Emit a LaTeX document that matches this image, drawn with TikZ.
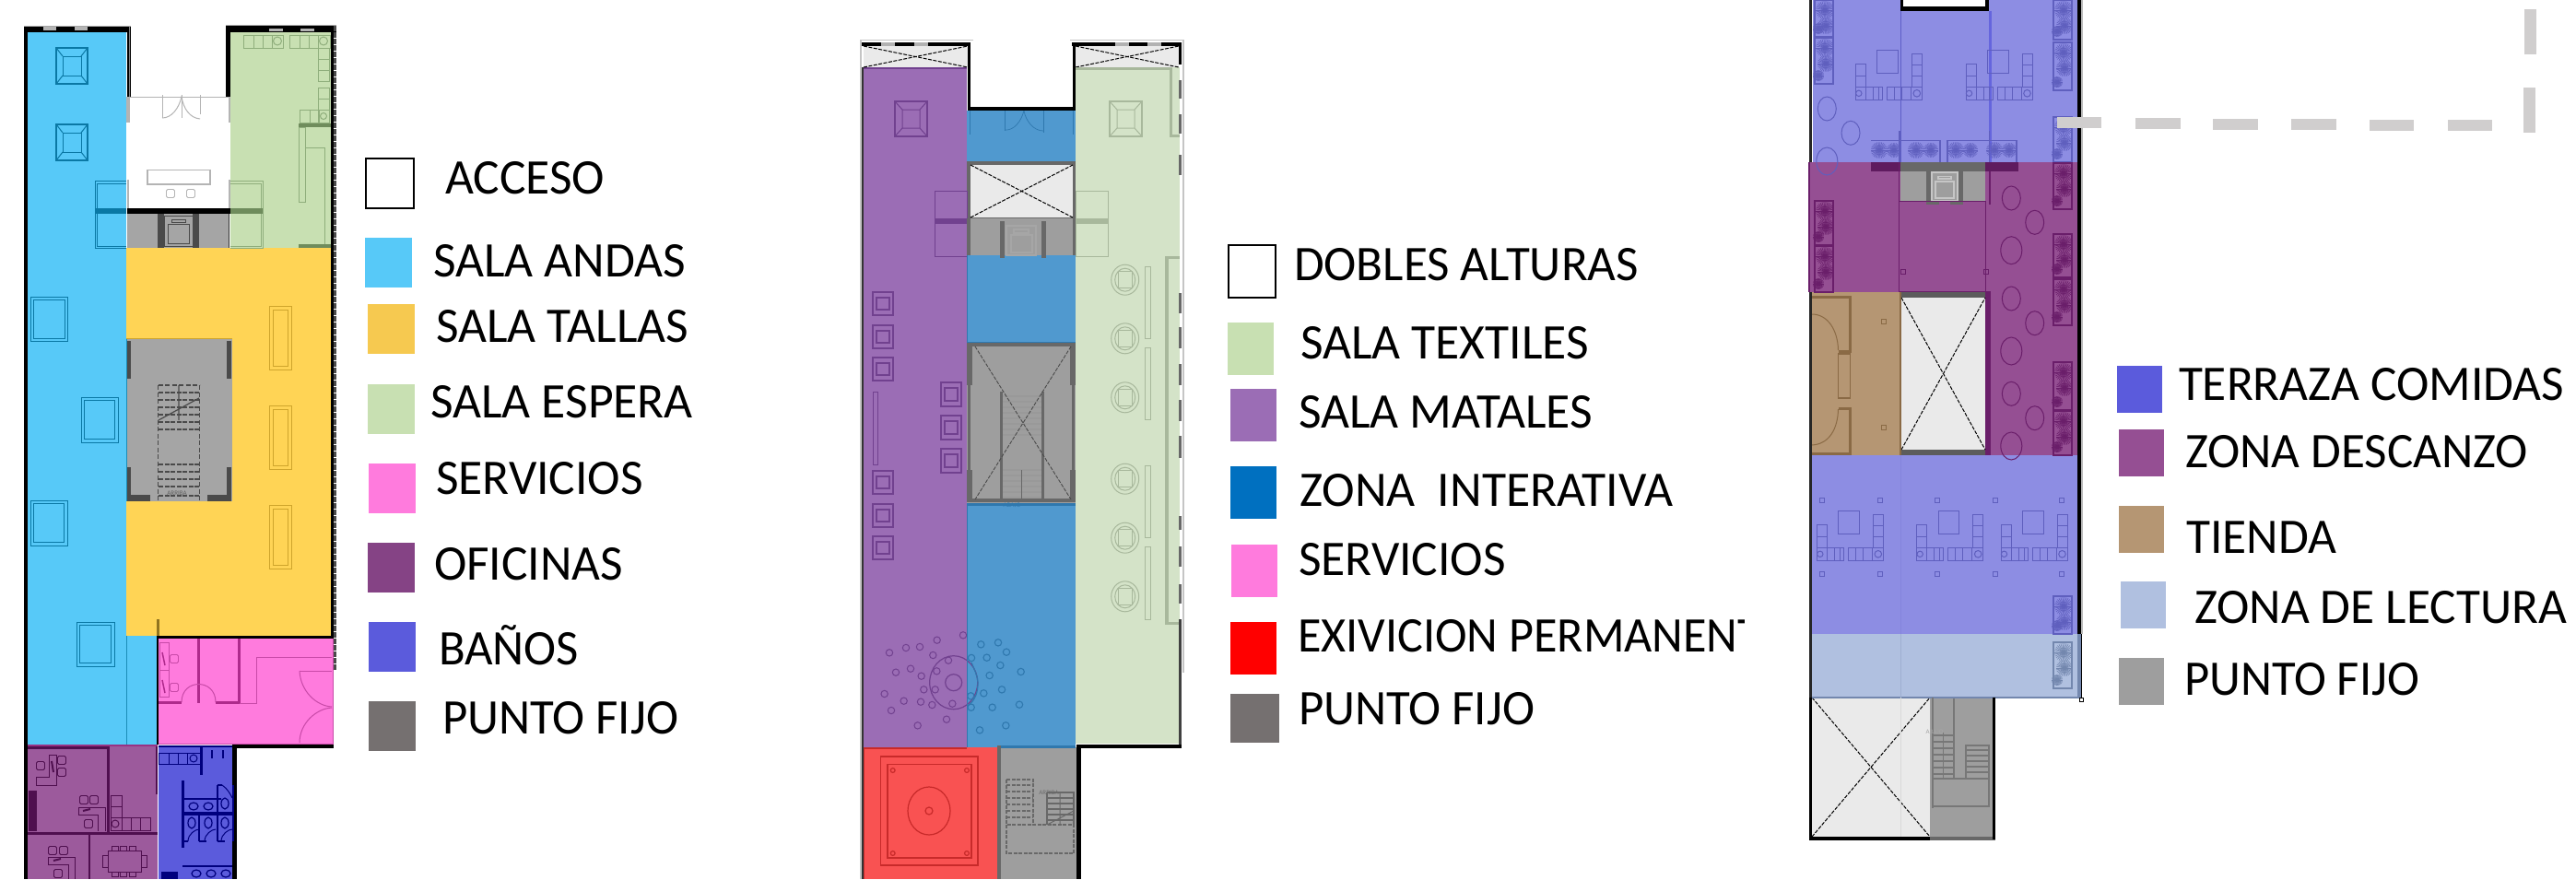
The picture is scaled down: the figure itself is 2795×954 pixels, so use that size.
\documentclass[tikz,border=0pt]{standalone}
\usepackage{fontspec}
\usepackage{graphicx}
\setmainfont{Carlito}
\definecolor{lgTa}{HTML}{F6C950}
\definecolor{lgOf}{HTML}{854385}
\definecolor{lgGy}{HTML}{757070}
\definecolor{lgBl}{HTML}{0070C0}
\definecolor{cCy}{HTML}{57C9F8}
\definecolor{cCyL}{HTML}{1C8DB8}
\definecolor{cCyD}{HTML}{0A78A5}
\definecolor{cYe}{HTML}{FFD455}
\definecolor{cYeL}{HTML}{CFA52C}
\definecolor{cGr}{HTML}{C8E0B2}
\definecolor{cGrL}{HTML}{8FAE7C}
\definecolor{cGrD}{HTML}{6F8C5C}
\definecolor{cPk}{HTML}{FF7BDD}
\definecolor{cPkL}{HTML}{C84AA8}
\definecolor{cPkD}{HTML}{AE2A8C}
\definecolor{cOf}{HTML}{9C5A9C}
\definecolor{cOfL}{HTML}{4F0F4F}
\definecolor{cBa}{HTML}{5B5BDC}
\definecolor{cBaL}{HTML}{00007E}
\definecolor{cGy}{HTML}{A5A5A5}
\definecolor{cGyD}{HTML}{4A4A4A}
\definecolor{cWh}{HTML}{B4B4B4}
\definecolor{cMe}{HTML}{9B6DB5}
\definecolor{cMeL}{HTML}{71418F}
\definecolor{cIn}{HTML}{5099CF}
\definecolor{cInL}{HTML}{2F78AE}
\definecolor{cTe}{HTML}{D4E3C8}
\definecolor{cTeL}{HTML}{A8B89C}
\definecolor{cRe}{HTML}{F95252}
\definecolor{cReL}{HTML}{C82A2A}
\definecolor{cGm}{HTML}{9E9E9E}
\definecolor{cGmD}{HTML}{686868}
\definecolor{cLt}{HTML}{EAEAEA}
\definecolor{cTz}{HTML}{8D8DE3}
\definecolor{cTzL}{HTML}{5F5FBE}
\definecolor{cDe}{HTML}{954F93}
\definecolor{cDeL}{HTML}{6A1E6A}
\definecolor{cTi}{HTML}{B59673}
\definecolor{cTiL}{HTML}{8A6A45}
\definecolor{cLe}{HTML}{B0C0E0}
\definecolor{cLeL}{HTML}{7387AE}
\definecolor{cDash}{HTML}{D0CECE}
\tikzset{
  lgdtext/.style={anchor=base west,inner sep=0pt,outer sep=0pt,font=\fontsize{54}{60}\selectfont,text=black},
  tiny/.style={inner sep=0pt,font=\fontsize{7}{8}\selectfont,text=#1},
  xbox/.style={line width=1pt,dash pattern=on 4pt off 1.5pt,black},
  fur/.style={line width=1pt},
}
\newcommand{\fb}[5]{\fill[#5] (#1,#2) rectangle (#3,#4);}
\newcommand{\lgd}[5]{\pgfmathsetmacro{\lgw}{#4+3}\node[lgdtext] (#1) at (#2-2,#3) {\resizebox{\lgw pt}{\height}{#5}};}
\newcommand{\pedestal}[4]{%
  \draw[line width=1.2pt] (#1,#2) rectangle (#3,#4);
  \draw[line width=1pt] (#1+7,#2+9) rectangle (#3-7,#4-9);
  \draw[line width=1pt] (#1,#2) -- (#1+7,#2+9) (#3,#2) -- (#3-7,#2+9) (#1,#4) -- (#1+7,#4-9) (#3,#4) -- (#3-7,#4-9);}
\newcommand{\dbl}[5]{\draw[line width=1pt] (#1,#2) rectangle (#3,#4) (#1+#5,#2+#5) rectangle (#3-#5,#4-#5);}
\newcommand{\chairc}[2]{\draw[line width=.9pt,rounded corners=1.5pt] (#1-4.5,#2-4.5) rectangle (#1+4.5,#2+4.5);}
% sofa group, x0 = left edge, y0 = bottom edge
\newcommand{\sofagrp}[2]{%
  \draw[line width=1pt] (#1,#2) rectangle (#1+29,#2-14);
  \draw[line width=1pt] (#1+11,#2-14) -- (#1+11,#2) (#1+19,#2-14) -- (#1+19,#2) (#1+25,#2-14) -- (#1+25,#2);
  \draw[line width=1pt] (#1,#2-14) rectangle (#1+11,#2-39) (#1,#2-26) -- (#1+11,#2-26);
  \draw[line width=1pt] (#1+3.5,#2-7) circle[radius=3.2];
  \draw[line width=1pt] (#1+34,#2) rectangle (#1+72,#2-14);
  \draw[line width=1pt] (#1+42,#2-14) -- (#1+42,#2) (#1+50,#2-14) -- (#1+50,#2) (#1+60,#2-14) -- (#1+60,#2);
  \draw[line width=1pt] (#1+61,#2-14) rectangle (#1+72,#2-50) (#1+61,#2-26) -- (#1+72,#2-26) (#1+61,#2-38) -- (#1+72,#2-38);
  \draw[line width=1pt] (#1+66.5,#2-7) circle[radius=3.8];
  \draw[line width=1pt] (#1+23.5,#2-54) rectangle (#1+46,#2-29);}
\newcommand{\plantb}[3]{\foreach \ang in {0,12,...,348}{\draw[line width=.6pt] (#1,#2) -- ++(\ang:#3);}\fill (#1,#2) circle[radius=#3*.2];}
\newcommand{\planterv}[4]{%
  \draw[line width=1.4pt] (#1,#2) rectangle (#3,#4);
  \plantb{#1+11}{#2+11}{10}\plantb{#1+12}{#2+28}{9}\plantb{#1+4}{#4-9}{6}}
\newcommand{\planterh}[2]{%
  \plantb{#1+9}{#2+11}{9}\plantb{#1+25}{#2+11}{8}}
\newcommand{\sqs}[2]{\draw[line width=.9pt] (#1-2.5,#2-2.5) rectangle (#1+2.5,#2+2.5);}
\begin{document}
\begin{tikzpicture}[x=1pt,y=-1pt]
\useasboundingbox (0,0) rectangle (2795,954);
\fill[white] (0,0) rectangle (2795,954);
%% ---------- PLAN 1 ----------
\fb{29}{35}{137}{808}{cCy}
\fb{137}{690}{171}{808}{cCy}
\fb{250}{35}{359}{269}{cGr}
\fb{137}{269}{359}{690}{cYe}
\fb{137}{367.5}{252}{544}{cGy}
\fb{138}{232}{249}{269}{cGy}
\fb{171}{693}{362}{808}{cPk}
\fb{29}{808}{171}{954}{cOf}
\fb{172}{810}{252}{954}{cBa}
% cyan furniture
\begin{scope}[color=cCyD]
\pedestal{61}{52}{95}{91}
\pedestal{61}{135}{95}{174}
\dbl{33}{322}{73}{370}{3}
\dbl{88}{431}{128}{480}{3.5}
\dbl{33}{543}{73}{592}{3.5}
\dbl{83}{675}{124}{723}{3.5}
\draw[line width=1pt] (137,196) -- (103,196) -- (103,269) -- (137,269) (137,199) -- (105,199) -- (105,267) -- (137,267);
\fb{103}{226}{137}{232}{cCyD}
\draw[line width=.7pt,cCyL] (137.5,690) -- (137.5,808);
\end{scope}
% green furniture
\begin{scope}[color=cGrL]
\draw[fur] (264,38) rectangle (307,52) (275,38) -- (275,52) (285,38) -- (285,52) (295,38) -- (295,52);
\draw[fur] (301,44.5) circle[radius=4.5];
\draw[fur] (314,38) rectangle (358,52) (325,38) -- (325,52) (335,38) -- (335,52) (345,38) -- (345,52);
\draw[fur] (351,44.5) circle[radius=4.5];
\draw[fur] (345,52) rectangle (357,88) (345,64) -- (357,64) (345,76) -- (357,76);
\draw[fur] (345,95) rectangle (357,133) (345,107) -- (357,107) (345,119) -- (357,119);
\draw[fur] (325,119) rectangle (357,133) (336,119) -- (336,133) (346,119) -- (346,133);
\draw[fur] (351,126) circle[radius=3.5];
\fb{324}{134}{359}{138}{cGrD}
\draw[fur] (324,138) rectangle (331,219);
\draw[fur] (331,160) -- (352,160) -- (352,269);
\fb{324}{265}{359}{269}{cGrD}
\draw[line width=1pt] (250,196) -- (285,196) -- (285,269) -- (250,269) (250,199) -- (283,199) -- (283,267) -- (250,267);
\fb{250}{226}{285}{232}{cGrD}
\end{scope}
% yellow furniture
\begin{scope}[color=cYeL]
\dbl{292.5}{332}{316.5}{401}{4}
\dbl{292.5}{440}{316.5}{509}{4}
\dbl{292.5}{548}{316.5}{617}{4}
\fb{169.5}{672}{172.5}{690}{cYeL!70!black}
\end{scope}
% access
\begin{scope}[color=cWh]
\draw[line width=1.2pt] (140,105.5) -- (248,105.5);
\fb{137}{105}{141}{133}{cWh}
\fb{247.5}{105}{250}{133}{cWh}
\fb{137.5}{195}{140}{226}{cWh}
\fb{248}{195}{250}{226}{cWh}
\draw[line width=1pt] (176,103) -- (176,128) (197,103) -- (197,128) (217,103) -- (217,124);
\draw[line width=1pt] (176,128) .. controls (186,128) and (194,118) .. (197,105) .. controls (199,118) and (206,128) .. (217,129);
\draw[line width=1.2pt] (160,184.5) rectangle (228,200);
\chairc{185}{210}\chairc{207}{210}
\end{scope}
\fb{138}{226}{250}{232}{black}
% elevator
\fb{171}{232}{178}{269}{cGyD}
\fb{209}{232}{216}{269}{cGyD}
\draw[cGyD,line width=1pt] (178,234) rectangle (209,267) (182,243) rectangle (205,264) (186,238) rectangle (201,241);
\draw[black!80,line width=1pt] (248.5,232) -- (248.5,269);
% core
\begin{scope}[color=cGyD]
\fb{137}{370}{142}{411}{cGyD}
\fb{245.5}{370}{251}{411}{cGyD}
\fb{137}{507}{142}{544}{cGyD}
\fb{137}{537}{163}{544}{cGyD}
\fb{245.5}{507}{251}{544}{cGyD}
\fb{225}{537}{251}{544}{cGyD}
\draw[line width=1.6pt,dash pattern=on 5pt off 2.5pt] (171.5,418) -- (171.5,544) (216.5,418) -- (216.5,544) (171.5,418) -- (216.5,418);
\foreach \yy in {426,434,442,450,458,466,504,512,520,528,538}{\draw[line width=1.4pt,dash pattern=on 5pt off 1.5pt] (172,\yy) -- (216,\yy);}
\draw[line width=1.2pt] (194,418) -- (194,456) (172,456) -- (216,432);
\node[tiny=gray!75!black] (arriba1) at (192,535.5) {ARRIBA};
\end{scope}
\draw[cCyL,line width=1pt] (137.5,367) -- (137.5,544);
\draw[cYeL,line width=.6pt] (137,367.5) -- (252,367.5);
% pink
\begin{scope}[color=cPkL]
\fb{213.5}{693}{217}{763}{cPkD}
\fb{257.5}{693}{261}{763}{cPkD}
\fb{172}{760.5}{197}{763.5}{cPkD}
\fb{234}{760.5}{260}{763.5}{cPkD}
\draw[fur] (197,762) .. controls (197,736) and (234,736) .. (234,762);
\draw[fur] (260,763) -- (278,763) -- (278,713.5) -- (360,713.5);
\draw[fur] (325,728) -- (360,728);
\draw[fur] (325,728) .. controls (326,750) and (343,766) .. (360,767);
\draw[fur] (360,768) .. controls (343,769) and (325,785) .. (325,806);
\draw[fur] (173,697) rectangle (183,756) (173,727) -- (183,727);
\chairc{189}{715}\chairc{189}{746}
\draw[line width=1.5pt,cPkD] (176,708) -- (179,722) (176,738) -- (179,752);
\draw[fur] (171,807.5) -- (361,807.5) -- (361,693);
\end{scope}
% offices
\begin{scope}[color=cOfL]
\fb{29}{810}{118}{812.5}{cOfL}
\fb{116}{810}{118.5}{903}{cOfL}
\fb{29}{903}{171}{906}{cOfL}
\fb{96}{906}{98}{954}{cOfL}
\fb{168.5}{808}{171}{862}{cOfL}
\fb{29}{808}{171}{809.5}{cPkL!60!cOfL}
\draw[fur] (53,819) -- (61,819) -- (61,852) -- (39,852) -- (39,843) -- (53,843) -- cycle;
\chairc{44}{831}\chairc{67}{825}\chairc{67}{838}
\draw[line width=2pt] (56,826) -- (58,838);
\draw[fur] (85,876) -- (114,876) -- (114,902) (85,876) -- (85,884) -- (106,884) -- (106,902);
\chairc{91}{868}\chairc{102}{868}\chairc{96}{894}
\draw[line width=2pt] (90,880) -- (98,878);
\draw[fur] (120,863) rectangle (132,901) (120,875) -- (132,875) (120,887) -- (163,887) -- (163,901) -- (120,901) (132,887) -- (132,901) (142,887) -- (142,901) (152,887) -- (152,901);
\draw[fur] (125,894) circle[radius=4];
\fill (31,858) rectangle (40,902);
\draw[fur] (52,930) -- (81,930) -- (81,954) (52,930) -- (52,938) -- (74,938) -- (74,954);
\chairc{57}{923}\chairc{69}{923}\chairc{63}{948}
\draw[line width=2pt] (58,934) -- (66,932);
\draw[fur] (117,923) rectangle (153,946);
\draw[fur] (121,918) rectangle (128,923) (130,918) rectangle (137,923) (140,918) rectangle (147,923);
\draw[fur] (111,928) rectangle (117,941) (153,928) rectangle (159,941);
\draw[fur] (121,946) rectangle (128,951) (130,946) rectangle (137,951) (140,946) rectangle (147,951);
\end{scope}
% baños
\begin{scope}[color=cBaL]
\fb{172}{808.5}{252}{811}{cBaL}
\draw[fur] (172,817) rectangle (217,829) (183,817) -- (183,829) (193,817) -- (193,829) (203,817) -- (203,829);
\draw[fur] (210,823) circle[radius=4];
\fb{216.5}{811}{219.5}{841}{cBaL}
\draw[line width=1.2pt] (230,814) -- (230,823) (242,814) -- (242,823);
\fb{196.5}{847}{199.5}{920}{cBaL}
\fb{198}{881}{253}{885}{cBaL}
\draw[line width=1.2pt] (200,867) -- (240,867) (236,852) -- (236,883) (236,852) -- (241,852);
\draw[line width=1.4pt] (216,885) -- (216,913) (236,885) -- (236,913) (198,913) -- (204,913) (216,913) -- (224,913) (236,913) -- (244,913);
\foreach \xx in {210,226}{\draw[line width=1.2pt] (\xx,875) ellipse[x radius=5,y radius=4];}
\draw[line width=1.2pt] (244,872) ellipse[x radius=4,y radius=6];
\foreach \xx in {208,226,244}{\draw[line width=1.2pt] (\xx,893) ellipse[x radius=4,y radius=6];\draw[line width=1pt] (\xx-4,913) .. controls (\xx-4,905) and (\xx+4,900) .. (\xx+8,900);}
\draw[line width=1pt] (241,852) .. controls (247,856) and (250,862) .. (252,866);
\draw[line width=1.2pt] (198,940) -- (253,940);
\foreach \xx in {213,229,245}{\draw[line width=1.2pt] (\xx,948) ellipse[x radius=5,y radius=4];}
\fill (175,946) rectangle (193,954);
\end{scope}
% plan 1 walls
\fb{26}{28}{29.5}{954}{black}
\fb{26}{28}{142}{35}{black}
\fb{137.5}{28}{142}{105}{black}
\fb{245}{28}{365}{35}{black}
\fb{245}{28}{250}{105}{black}
\fb{359}{28}{362}{690}{black}
\fb{170}{690}{362}{693}{black}
\fb{170}{690}{172}{808}{black}
\fb{252}{808}{362}{812}{black}
\fb{252}{812}{257}{954}{black}
\fb{252}{852}{254}{913}{cBaL}
\draw[line width=3pt,dash pattern=on 6pt off 1pt,cGyD] (363.5,28) -- (363.5,728);
\draw[line width=1pt,gray] (140.5,28) -- (140.5,105);
\fb{47}{29}{61}{33}{cWh}
\fb{81}{29}{95}{33}{cWh}
\fb{292}{31}{307}{34}{cWh}
\fb{326}{31}{341}{34}{cWh}
\draw[cGy,line width=.8pt] (26,28) -- (142,28) (245,27.5) -- (365,27.5);
%% ---------- PLAN 2 ----------
\fb{936}{73}{1049}{811}{cMe}
\fb{936}{73}{1049}{74.5}{cMeL}
\fb{1167}{73}{1280}{807}{cTe}
\fb{937}{50}{1050}{73}{cLt}
\fb{1167}{50}{1279}{73}{cLt}
\fb{1049}{120}{1167}{175}{cIn}
\fb{1049}{175}{1167}{237}{cGmD}
\fb{1053}{179}{1164}{236}{cLt}
\fb{1049}{237}{1167}{277}{cGm}
\fb{1049}{277}{1167}{372}{cIn}
\fb{1049}{372}{1167}{548}{cGm}
\fb{1049}{548}{1167}{811}{cIn}
\fb{936}{811}{1082}{954}{cRe}
\fb{1082}{811}{1168}{954}{cGm}
\draw[xbox] (1053,179) -- (1164,236) (1053,236) -- (1164,179);
\draw[xbox] (937,50) -- (1050,73) (937,73) -- (1050,50);
\draw[xbox] (1167,50) -- (1279,73) (1167,73) -- (1279,50);
% metal furniture
\begin{scope}[color=cMeL]
\draw[line width=1.4pt] (971,110) rectangle (1006,148);
\draw[fur] (979,119) rectangle (998,139) (971,110) -- (979,119) (1006,110) -- (998,119) (971,148) -- (979,139) (1006,148) -- (998,139);
\draw[line width=1pt] (1014,207) rectangle (1049,278);
\fb{1014}{237}{1049}{243}{cMeL}
\foreach \yy in {317,353,388,511,547,582}{\draw[line width=1.2pt] (947,\yy) rectangle (969,\yy+25);\draw[line width=1.6pt] (951,\yy+6) rectangle (965,\yy+19);}
\foreach \yy in {415,451,487}{\draw[line width=1.2pt] (1021,\yy) rectangle (1043,\yy+26);\draw[line width=1.6pt] (1025,\yy+6) rectangle (1039,\yy+20);}
\draw[fur] (947,425) rectangle (952,504);
\foreach \a/\b in {135/685,189/669,234/666,290/644,375/628,277/693,327/710,156/749,204/737,239/761,289/745,247/805,284/805,119/819,182/842,237/845,274/855,340/851,141/873,227/922,321/902}{\draw[line width=1pt] (920+\a/3,480+\b/3) circle[radius=3.7];}
\draw[line width=1.2pt] (1034.7,740.7) ellipse[x radius=26,y radius=29];
\draw[line width=1.2pt] (1034.7,740.7) circle[radius=9];
\end{scope}
\begin{scope}[color=cInL]
\foreach \a/\b in {433/658,489/652,516/683,402/702,452/701,496/726,461/759,563/747,501/805,442/817,400/826,401/863,470/863,558/854,514/922,429/937}{\draw[line width=1.1pt] (920+\a/3,480+\b/3) circle[radius=3.7];}
\draw[line width=1.2pt] (1054,719) .. controls (1058,728) and (1061,735) .. (1061,741) .. controls (1061,752) and (1058,760) .. (1050,766);
\draw[line width=.7pt] (1052,120) -- (1052,146) (1164,120) -- (1164,146) (1090,120) -- (1090,142) (1132,120) -- (1132,144);
\draw[line width=.7pt] (1090,141) .. controls (1100,142) and (1108,132) .. (1111,120) .. controls (1113,132) and (1122,142) .. (1132,142);
\fb{1048.5}{277}{1050}{372}{cInL}
\fb{1048.5}{548}{1050}{811}{cInL}
\fb{1049}{370.5}{1167}{373}{cInL}
\fb{1049}{545.5}{1167}{549}{cInL}
\fb{1085}{809}{1167}{812}{cInL}
\end{scope}
% textiles
\begin{scope}[color=cTeL]
\draw[line width=1.2pt] (1204,110) rectangle (1239,148);
\draw[fur] (1212,119) rectangle (1231,139) (1204,110) -- (1212,119) (1239,110) -- (1231,119) (1204,148) -- (1212,139) (1239,148) -- (1231,139);
\draw[line width=1pt] (1167,207) rectangle (1202,278);
\fb{1167}{237}{1202}{243}{cTeL}
\foreach \yy in {303.7,367.3,431.3,519.7,583.7,647.3}{\draw[line width=1pt] (1220.7,\yy) ellipse[x radius=15,y radius=16.5];\draw[line width=1pt] (1220.7,\yy) ellipse[x radius=11,y radius=12.5];\draw[fur] (1213,\yy-9) rectangle (1228,\yy+9);}
\foreach \yy/\zz in {289/367,377/455,505/583,593/672}{\draw[line width=1pt] (1242.5,\yy) rectangle (1248,\zz);}
\fb{1264}{278}{1267.5}{677}{cTeL}
\fb{1264}{278}{1280}{281}{cTeL}
\fb{1264}{675}{1280}{678}{cTeL}
\fb{1269}{73}{1272}{149}{cTeL}
\fb{1269}{146}{1280}{149}{cTeL}
\fb{1167}{73}{1272}{76}{cTeL}
\end{scope}
% core plan 2
\begin{scope}[color=cGmD]
\fb{1049}{237}{1053}{277}{cGmD}
\fb{1164}{237}{1167}{277}{cGmD}
\fb{1085}{240}{1090}{280}{cGmD}
\fb{1130}{240}{1135}{280}{cGmD}
\draw[line width=1.4pt,gray!70] (1092,245) rectangle (1124,277) (1097,255) rectangle (1120,274) (1100,249) rectangle (1116,253);
\fb{1049}{372}{1055}{418}{cGmD}
\fb{1161}{372}{1167}{418}{cGmD}
\fb{1049}{372}{1167}{376}{cGmD}
\fb{1050}{418}{1053}{510}{cGmD}
\fb{1163}{418}{1166}{510}{cGmD}
\fb{1049}{510}{1055}{545}{cGmD}
\fb{1161}{510}{1167}{545}{cGmD}
\fb{1049}{541}{1167}{545}{cGmD}
\fb{1085}{425}{1088}{545}{cGmD}
\fb{1130}{425}{1133}{545}{cGmD}
\foreach \yy in {430,436,442,448,454,460,466,472,510,516,522,528,534,540}{\draw[line width=1.2pt,gray!80] (1088,\yy) -- (1130,\yy);}
\draw[line width=.8pt] (1108,510) -- (1108,545);
\draw[line width=.9pt,dash pattern=on 4pt off 1.5pt,cGyD] (1058,376) -- (1162,542) (1162,376) -- (1058,542);
\node[tiny=cInL] (abajo2) at (1098,548.5) {ABAJO};
\end{scope}
% red
\begin{scope}[color=cReL]
\draw[line width=1.2pt] (955.5,821) rectangle (1061,939) (963,829.5) rectangle (1054,931);
\draw[line width=1.2pt] (1008,880) ellipse[x radius=23,y radius=26];
\draw[line width=1.2pt] (1008,880) circle[radius=4];
\foreach \xx/\yy in {968.7/836,1049/836,968.7/926,1049/926}{\draw[line width=1.2pt] (\xx,\yy) circle[radius=2.4];}
\fb{936}{811}{938}{954}{cReL}
\fb{936}{811}{1049}{812.5}{cReL}
\end{scope}
% lower stairs
\begin{scope}[color=cGmD]
\fb{1082}{809}{1086}{954}{cGmD}
\draw[line width=1.6pt,dash pattern=on 4pt off 1.5pt] (1092,895) rectangle (1165,926);
\draw[line width=1.6pt,dash pattern=on 4pt off 1.5pt] (1092,846) -- (1121,846) -- (1121,895) (1092,846) -- (1092,895);
\foreach \yy in {852,859,866,873,880,887}{\draw[line width=1.4pt,dash pattern=on 4pt off 1.5pt] (1092,\yy) -- (1121,\yy);}
\draw[line width=1.3pt] (1136,860) -- (1165,860) -- (1165,895) (1136,860) -- (1136,895);
\foreach \yy in {866,872,878,884,890}{\draw[line width=1.1pt] (1136,\yy) -- (1165,\yy);}
\draw[line width=1pt] (1136,895) -- (1165,880) (1150,860) -- (1150,895);
\node[tiny=gray!85!black] (arriba2) at (1138,860.5) {ARRIBA};
\end{scope}
% plan 2 walls
\draw[cGm!60,line width=1.3pt] (934,954) -- (934,43.5) -- (1056,43.5) (1161,43.5) -- (1284,43.5) -- (1284,730);
\fb{935}{73}{937}{954}{black!80}
\fb{1050}{46}{1053}{120}{black}
\fb{1050}{115.5}{1167}{120}{black}
\fb{1163.5}{46}{1167}{120}{black}
\fb{935}{46}{1053}{49.5}{white!70!black}
\fb{1163}{46}{1282}{49.5}{white!70!black}
\foreach \aa/\bb in {935/956,971/992,1007/1031,1031/1053,1163/1210,1225/1245,1260/1282}{\fb{\aa}{46}{\bb}{50}{black}}
\fb{1279}{50}{1282}{70}{black}
\foreach \aa/\bb in {87/107,124/145,168/190,318/340,355/378,395/418,434/457,473/497,560/575,593/615,634/655,672/810}{\fb{1279}{\aa}{1282}{\bb}{cGmD}}
\fb{1279}{672}{1282}{810}{black!75}
\fb{1168}{807.5}{1282}{812}{black}
\fb{1168}{807.5}{1173}{954}{black}
%% ---------- PLAN 3 ----------
\fb{1966}{0}{2254}{176}{cTz}
\fb{1962}{176}{2254}{317}{cDe}
\fb{1966}{317}{2062}{494}{cTi}
\fb{2160}{317}{2254}{494}{cDe}
\fb{2063}{323}{2154}{488}{cLt}
\fb{2062}{317}{2154}{323}{cGyD!90}
\fb{2062}{488}{2154}{494}{cGyD!90}
\fb{2154}{317}{2160}{494}{cDeL}
\fb{1966}{494}{2254}{688}{cTz}
\fb{1965}{688}{2258}{757}{cLe}
\fb{1966}{757}{2094}{908}{cLt}
\fb{2094}{757}{2164}{910}{cGm}
\fb{2062}{176}{2154}{218}{cGm}
% plan 3 elevator
\fb{2062}{176}{2154}{186}{cGmD}
\fb{2090}{186}{2097}{222}{cGmD}
\fb{2123}{186}{2129.5}{222}{cGmD}
\draw[line width=1.2pt,gray!45] (2096,187) rectangle (2124,218) (2100,197) rectangle (2120,215) (2103,191.5) rectangle (2117,194);
\fb{2096}{218}{2104}{222}{cGmD}
\fb{2116}{218}{2124}{222}{cGmD}
\draw[xbox] (2063,323) -- (2154,488) (2063,488) -- (2154,323);
\draw[xbox] (1966,757) -- (2094,908) (1966,908) -- (2094,757);
% plan 3 top block
\fb{2062}{0}{2158}{12}{black}
\fb{2065}{0}{2154}{7}{white}
\draw[cTzL!70!cBa,line width=.8pt] (2062.5,12) -- (2062.5,176);
\fb{2158}{12}{2161}{176}{cBa!80!cTz}
\begin{scope}[color=cTzL]
\sofagrp{2013.3}{108.3}
\sofagrp{2133}{108.3}
\sofagrp{1971.3}{608.3}
\sofagrp{2079.7}{608.3}
\sofagrp{2171}{608.3}
\foreach \xx in {1977,2039.7,2102.3,2165,2236.7}{\sqs{\xx}{542.5}\sqs{\xx}{622.5}}
\foreach \xx/\yy/\rx/\ry in {1982.3/118/10/13,2008/144.3/10/13,1982.3/175/11.5/15}{\draw[line width=1pt] (\xx,\yy) ellipse[x radius=\rx,y radius=\ry];}
\planterv{1969}{0}{1989}{40}
\planterv{1969}{41}{1989}{91}
\planterv{2228}{0}{2248}{43}
\planterv{2228}{46}{2248}{98}
\planterv{2228}{127}{2248}{176}
\planterv{2228}{647}{2248}{688}
\planterh{2030}{152}\planterh{2070}{152}
\planterh{2113}{152}\planterh{2155}{152}
\draw[line width=1.3pt] (2030,152.5) -- (2105,152.5) -- (2105,176) (2113,176) -- (2113,152.5) -- (2188,152.5) -- (2188,176);
\draw[line width=1.6pt] (2061,142) -- (2061,176) (2158.5,142) -- (2158.5,176);
\end{scope}
\begin{scope}[color=cDeL]
\fb{2030}{176}{2062}{186}{cDeL!90!black}
\fb{2154}{176}{2190}{186}{cDeL!90!black}
\draw[line width=1pt] (2060.5,176) -- (2060.5,317) (2154.5,218) -- (2154.5,317) (2060.5,218.5) -- (2154.5,218.5) (2060.5,316.5) -- (2160,316.5);
\draw[line width=2pt] (2158.5,186) -- (2158.5,222);
\foreach \xx/\yy/\rx/\ry in {2182.3/215/10/13,2207.7/241.3/10/13,2182.3/271.7/11.5/15,2182.3/324/10/13,2207.7/350.7/10/13,2182.3/381/11.5/15,2182.3/427.3/10/13,2207.7/453.7/10/13,2182.3/484/11.5/15}{\draw[line width=1pt] (\xx,\yy) ellipse[x radius=\rx,y radius=\ry];}
\sqs{2065.3}{294.7}\sqs{2155}{294.7}
\planterv{1969}{218}{1989}{266}
\planterv{1969}{267}{1989}{317}
\planterv{2228}{177}{2248}{227}
\planterv{2228}{254}{2248}{301}
\planterv{2228}{303}{2248}{353}
\planterv{2228}{393}{2248}{445}
\planterv{2228}{446}{2248}{494}
\draw[line width=1.2pt,cDeL] (1963,176) -- (1963,317);
\end{scope}
% tienda
\begin{scope}[color=cTiL]
\draw[line width=3pt] (1966,322.5) -- (2007.5,322.5) -- (2007.5,381) -- (1995,381);
\draw[line width=1.3pt] (1994.5,384) rectangle (2007.5,432);
\draw[line width=3pt] (1995,443.5) -- (2007.5,443.5) -- (2007.5,492.5) -- (1966,492.5);
\draw[fur] (1966,341) .. controls (1983,341) and (1994,358) .. (1994.5,380);
\draw[fur] (1994.5,444) .. controls (1994,465) and (1985,482) .. (1966,483);
\sqs{2044}{349}\sqs{2044}{464}
\draw[line width=1.3pt] (2062,317) -- (2062,494);
\end{scope}
% lectura
\begin{scope}[color=cLeL]
\planterv{2228}{697}{2248}{747}
\fb{2254}{688}{2258}{757}{cLeL}
\fb{1965}{755.5}{2258}{757.5}{cLeL}
\end{scope}
\draw[cTzL!20!cTz,line width=.6pt] (2062.5,494) -- (2062.5,688);
\draw[cLeL!30!cLe,line width=.6pt] (2062.5,688) -- (2062.5,757);
\draw[black!15,line width=.7pt] (2062.5,757) -- (2062.5,908);
% lower stairs plan 3
\begin{scope}[color=cGmD!90]
\draw[line width=1.5pt] (2120,758) -- (2120,845) (2097,757) -- (2097,877) (2097,875) -- (2158,875) -- (2158,809) -- (2133,809) -- (2133,845) (2097,845) -- (2158,845);
\draw[line width=2.5pt] (2120,845) -- (2133,845);
\foreach \yy in {798,805,812,819,826,833,840}{\draw[line width=1.2pt] (2097,\yy) -- (2120,\yy);}
\foreach \yy in {814,820,826,832,838}{\draw[line width=1.2pt] (2133,\yy) -- (2158,\yy);}
\draw[line width=.8pt] (2108.5,795) -- (2108.5,845);
\node[tiny=gray!70] (abajo3) at (2099,794.5) {ABAJO};
\end{scope}
% plan 3 walls
\fb{1963}{0}{1966}{176}{black!85}
\fb{1966}{0}{1967}{176}{white}
\fb{1963}{317}{1966}{757}{black!85}
\fb{1963}{757}{1966}{911}{black}
\fb{1963}{908}{2094}{911.5}{black}
\fb{2094}{908}{2165}{911.5}{cGmD}
\fb{2161.5}{757}{2165}{911}{black}
\fb{2254}{0}{2258}{688}{black}
\fb{2258}{0}{2260}{688}{cGm!70}
\fb{2258}{688}{2259}{757}{black}
\draw[black,line width=1pt,fill=white] (2256,757.5) rectangle (2260,761.5);
%% dashed boundary
\foreach \aa/\bb/\yy in {2232/2280/127,2317/2366/128,2401/2450/128.5,2486/2535/129,2571/2619/129.5,2656/2704/130}{\fill[cDash] (\aa,\yy) rectangle (\bb,\yy+12);}
\fb{2739}{10}{2751.5}{59}{cDash}
\fb{2738}{95}{2750.5}{144}{cDash}
%% ---------- LEGENDS ----------
\draw[black,line width=2pt] (397,172) rectangle (449,225.5);
\fb{396}{258}{447}{312}{cCy}
\fb{399}{330}{450}{384}{lgTa}
\fb{399}{417}{450}{471}{cGr}
\fb{400}{503}{451}{557}{cPk}
\fb{399}{589}{450}{643}{lgOf}
\fb{400}{675}{451}{729}{cBa}
\fb{400}{761}{451}{815}{lgGy}
\lgd{a1}{485}{210}{170}{ACCESO}
\lgd{a2}{472}{300.5}{271}{SALA ANDAS}
\lgd{a3}{475}{371}{271}{SALA TALLAS}
\lgd{a4}{469}{453.5}{282}{SALA ESPERA}
\lgd{a5}{475}{536}{222}{SERVICIOS}
\lgd{a6}{473}{629}{202}{OFICINAS}
\lgd{a7}{478}{721.5}{149}{BAÑOS}
\lgd{a8}{482}{796}{253}{PUNTO FIJO}
\draw[black,line width=2pt] (1333,266) rectangle (1384,322.5);
\fb{1332}{350}{1382}{407}{cGr}
\fb{1335}{422}{1385}{479}{cMe}
\fb{1335}{506}{1385}{563}{lgBl}
\fb{1336}{591}{1386}{648}{cPk}
\fb{1335}{675}{1385}{732}{red}
\fb{1335}{753}{1388}{806}{lgGy}
\lgd{b1}{1406}{304.6}{371}{DOBLES ALTURAS}
\lgd{b2}{1413}{389}{310}{SALA TEXTILES}
\lgd{b3}{1411}{464}{316}{SALA MATALES}
\lgd{b4}{1412}{549}{402}{ZONA\ \ INTERATIVA}
\lgd{b5}{1411}{624}{222}{SERVICIOS}
\begin{scope}
\clip (1400,650) rectangle (1892,730);
\lgd{b6}{1410}{707}{500}{EXIVICION PERMANENT}
\end{scope}
\lgd{b7}{1411}{786}{253}{PUNTO FIJO}
\fb{2297}{397}{2346}{448}{cBa}
\fb{2299}{466}{2348}{517}{cDe}
\fb{2299}{549}{2348}{600}{cTi}
\fb{2301}{631}{2350}{682}{cLe}
\fb{2299}{714}{2348}{765}{cGm}
\lgd{c1}{2366}{434}{415}{TERRAZA COMIDAS}
\lgd{c2}{2373}{507}{369}{ZONA DESCANZO}
\lgd{c3}{2374}{600.5}{160}{TIENDA}
\lgd{c4}{2383}{676}{401}{ZONA DE LECTURA}
\lgd{c5}{2372}{754}{252}{PUNTO FIJO}
\end{tikzpicture}
\end{document}
